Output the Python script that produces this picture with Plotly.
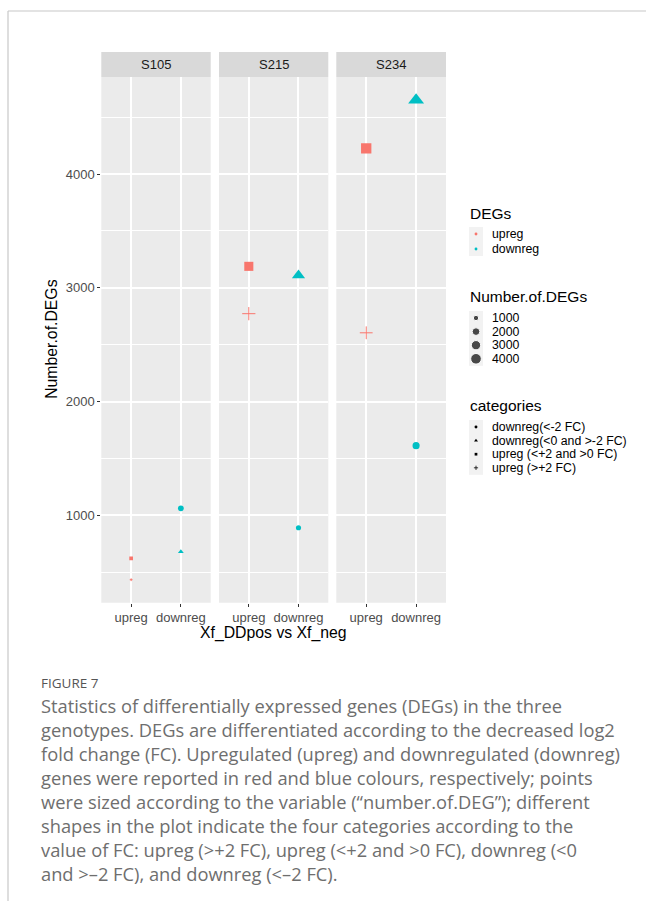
import numpy as np
import plotly.graph_objects as go

# ---------------- data ----------------
panels = ["S105", "S215", "S234"]
directions = ["upreg", "downreg"]
categories = ["downreg(<-2 FC)", "downreg(<0 and >-2 FC)",
              "upreg (<+2 and >0 FC)", "upreg (>+2 FC)"]
cat_direction = ["downreg", "downreg", "upreg", "upreg"]
down_lt_minus2 = [1062, 892, 1613]
down_0_minus2 = [681, 3110, 4650]
up_0_plus2 = [622, 3189, 4226]
up_gt_plus2 = [435, 2773, 2605]
cat_values = [down_lt_minus2, down_0_minus2, up_0_plus2, up_gt_plus2]
size_breaks = [1000, 2000, 3000, 4000]
y_ticks = [1000, 2000, 3000, 4000]

caption_title = "FIGURE 7"
caption_lines = [
    "Statistics of differentially expressed genes (DEGs) in the three",
    "genotypes. DEGs are differentiated according to the decreased log2",
    "fold change (FC). Upregulated (upreg) and downregulated (downreg)",
    "genes were reported in red and blue colours, respectively; points",
    "were sized according to the variable (\u201cnumber.of.DEG\u201d); different",
    "shapes in the plot indicate the four categories according to the",
    "value of FC: upreg (>+2 FC), upreg (<+2 and >0 FC), downreg (<0",
    "and >\u20132 FC), and downreg (<\u20132 FC).",
]

# ---------------- styles ----------------
W, H = 646, 901
colors = {"upreg": "#F8766D", "downreg": "#00BFC4"}
symbols = ["circle", "triangle-up", "square", "cross-thin"]
sym_k = [1.95, 2.3, 1.8, 2.0]

allv = [v for vals in cat_values for v in vals]
vmin, vmax = min(allv), max(allv)


def unit_size(v):
    t = np.clip((np.asarray(v, float) - vmin) / (vmax - vmin), 0, 1)
    return 1 + 5 * np.sqrt(t)


def esc(s):
    return s.replace("&", "&amp;").replace("<", "&lt;").replace(">", "&gt;")


def px_x(x):
    return x / W


def px_y(y):
    return 1 - y / H


panel_x = [(101.3, 210.7), (219.0, 328.3), (336.3, 446.0)]
panel_top, panel_bot, strip_top = 77.0, 602.7, 52.0
y_range = [233, 4853]

fig = go.Figure()

for ci, (cat, vals) in enumerate(zip(categories, cat_values)):
    d = cat_direction[ci]
    for pi, p in enumerate(panels):
        ax = "" if pi == 0 else str(pi + 1)
        s = float(unit_size(vals[pi])) * sym_k[ci]
        mk = dict(symbol=symbols[ci], size=s, color=colors[d])
        if symbols[ci] == "cross-thin":
            mk["line"] = dict(color=colors[d], width=1)
        fig.add_trace(go.Scatter(
            x=[d], y=[vals[pi]], mode="markers", marker=mk,
            xaxis="x" + ax, yaxis="y" + ax, showlegend=False,
            name=cat, hoverinfo="skip"))

layout = dict(
    width=W, height=H, margin=dict(l=0, r=0, t=0, b=0),
    paper_bgcolor="white", plot_bgcolor="rgba(0,0,0,0)", showlegend=False,
    font=dict(family="Liberation Sans, Arial, sans-serif", color="#1A1A1A"),
)
for pi in range(3):
    sfx = "" if pi == 0 else str(pi + 1)
    x0, x1 = panel_x[pi]
    layout["xaxis" + sfx] = dict(
        domain=[px_x(x0), px_x(x1)], anchor="y" + sfx, type="category",
        categoryorder="array", categoryarray=directions, range=[-0.6, 1.6],
        showgrid=True, gridcolor="white", gridwidth=1.6, zeroline=False,
        ticks="outside", ticklen=3, tickcolor="#333333", tickwidth=1,
        tickfont=dict(size=13, color="#4D4D4D"), showline=False, fixedrange=True)
    layout["yaxis" + sfx] = dict(
        domain=[px_y(panel_bot), px_y(panel_top)], anchor="x" + sfx,
        range=y_range, tickvals=y_ticks, showgrid=True, gridcolor="white",
        gridwidth=1.6, zeroline=False, showticklabels=(pi == 0),
        ticks="outside" if pi == 0 else "", ticklen=3, tickcolor="#333333",
        tickwidth=1, tickfont=dict(size=13, color="#4D4D4D"),
        minor=dict(tickvals=[500, 1500, 2500, 3500, 4500], showgrid=True,
                   gridcolor="white", gridwidth=0.8, ticks=""),
        fixedrange=True)
    if pi > 0:
        layout["yaxis" + sfx]["matches"] = "y"

# overlay pixel axes for legend glyphs (transparent background)
layout["xaxis4"] = dict(domain=[0, 1], range=[0, W], visible=False, anchor="y4", fixedrange=True)
layout["yaxis4"] = dict(domain=[0, 1], range=[H, 0], visible=False, anchor="x4", fixedrange=True)
fig.update_layout(**layout)

shapes = []
annotations = []
# frame lines
shapes.append(dict(type="line", xref="paper", yref="paper", x0=px_x(8), x1=1,
                   y0=px_y(11), y1=px_y(11), line=dict(color="#C8C8C8", width=1.2)))
shapes.append(dict(type="line", xref="paper", yref="paper", x0=px_x(8), x1=px_x(8),
                   y0=px_y(11), y1=0, line=dict(color="#C8C8C8", width=1.2)))
# panel backgrounds and strips
for pi, p in enumerate(panels):
    x0, x1 = panel_x[pi]
    shapes.append(dict(type="rect", xref="paper", yref="paper", x0=px_x(x0), x1=px_x(x1),
                       y0=px_y(panel_bot), y1=px_y(panel_top), fillcolor="#EBEBEB",
                       line=dict(width=0), layer="below"))
    shapes.append(dict(type="rect", xref="paper", yref="paper", x0=px_x(x0), x1=px_x(x1),
                       y0=px_y(panel_top), y1=px_y(strip_top), fillcolor="#D9D9D9",
                       line=dict(width=0), layer="below"))
    annotations.append(dict(text=p, xref="paper", yref="paper", x=px_x((x0 + x1) / 2),
                            y=px_y((panel_top + strip_top) / 2), showarrow=False,
                            xanchor="center", yanchor="middle",
                            font=dict(size=13, color="#1A1A1A")))

# axis titles
annotations.append(dict(text="Xf_DDpos vs Xf_neg", xref="paper", yref="paper",
                        x=px_x((panel_x[0][0] + panel_x[2][1]) / 2), y=px_y(633),
                        showarrow=False, xanchor="center", yanchor="middle",
                        font=dict(size=15.8, color="black")))
annotations.append(dict(text="Number.of.DEGs", xref="paper", yref="paper",
                        x=px_x(52), y=px_y((panel_top + panel_bot) / 2), textangle=-90,
                        showarrow=False, xanchor="center", yanchor="middle",
                        font=dict(size=15.8, color="black")))

# ---------------- legend ----------------
key_x0, key_x1, text_x = 469, 483, 490
key_cx = (key_x0 + key_x1) / 2
row_h = 13.6
groups = [
    ("DEGs", 214, directions),
    ("Number.of.DEGs", 296, [str(b) for b in size_breaks]),
    ("categories", 405, categories),
]
for gi, (title, ty, items) in enumerate(groups):
    annotations.append(dict(text=title, xref="paper", yref="paper", x=px_x(key_x0 - 1),
                            y=px_y(ty), showarrow=False, xanchor="left", yanchor="middle",
                            font=dict(size=15.5, color="black")))
    first = ty + 20 if gi == 0 else ty + 22
    ys = [first + i * (15 if gi == 0 else row_h) for i in range(len(items))]
    shapes.append(dict(type="rect", xref="paper", yref="paper", x0=px_x(key_x0),
                       x1=px_x(key_x1), y0=px_y(ys[-1] + 7), y1=px_y(ys[0] - 7),
                       fillcolor="#F2F2F2", line=dict(width=0), layer="below"))
    for it, yy in zip(items, ys):
        annotations.append(dict(text=esc(it), xref="paper", yref="paper", x=px_x(text_x),
                                y=px_y(yy), showarrow=False, xanchor="left", yanchor="middle",
                                font=dict(size=12.3, color="black")))
    if gi == 0:
        fig.add_trace(go.Scatter(x=[key_cx] * 2, y=ys, mode="markers", xaxis="x4", yaxis="y4",
                                 marker=dict(symbol="circle", size=1.5 * 1.9,
                                             color=[colors[d] for d in directions]),
                                 showlegend=False, hoverinfo="skip"))
    elif gi == 1:
        fig.add_trace(go.Scatter(x=[key_cx] * 4, y=ys, mode="markers", xaxis="x4", yaxis="y4",
                                 marker=dict(symbol="circle", color="black",
                                             size=list(unit_size(size_breaks) * 1.9)),
                                 showlegend=False, hoverinfo="skip"))
    else:
        for ci, yy in enumerate(ys):
            fig.add_trace(go.Scatter(x=[key_cx], y=[yy], mode="markers", xaxis="x4", yaxis="y4",
                                     marker=dict(symbol=symbols[ci], size=1.5 * sym_k[ci],
                                                 color="black",
                                                 line=dict(color="black", width=0.8 if ci == 3 else 0)),
                                     showlegend=False, hoverinfo="skip"))

# caption
annotations.append(dict(text=caption_title, xref="paper", yref="paper", x=px_x(39),
                        y=px_y(683), showarrow=False, xanchor="left", yanchor="middle",
                        font=dict(family="Open Sans", size=13.5, color="#555555")))
for i, line in enumerate(caption_lines):
    annotations.append(dict(text=esc(line), xref="paper", yref="paper", x=px_x(39),
                            y=px_y(705 + 24 * i), showarrow=False, xanchor="left",
                            yanchor="middle",
                            font=dict(family="Open Sans", size=18.3, color="#6E6E6E")))

fig.update_layout(shapes=shapes, annotations=annotations)
fig.write_html("out.html")
